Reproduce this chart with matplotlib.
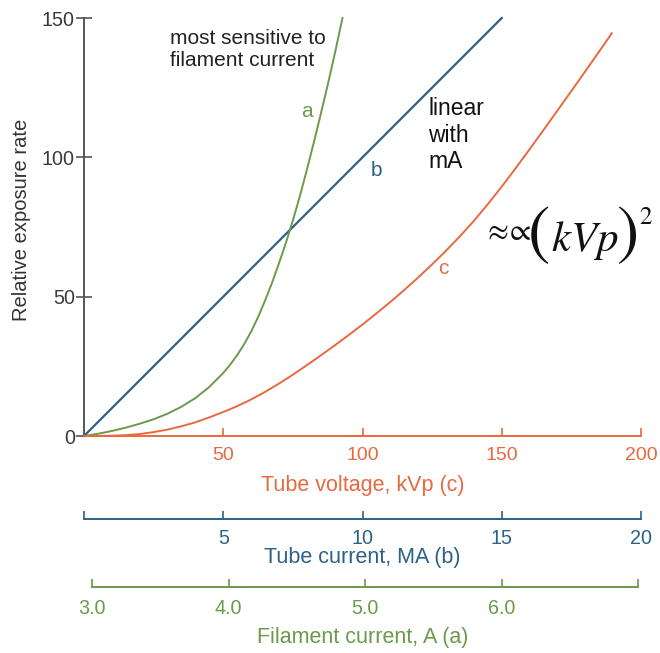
import matplotlib
matplotlib.use("Agg")
import matplotlib.pyplot as plt
import matplotlib.transforms as mtransforms
import numpy as np

plt.rcParams['font.family'] = ['Liberation Sans', 'DejaVu Sans']
plt.rcParams['mathtext.fontset'] = 'stix'

ORANGE = '#E8693F'
BLUE = '#2A6189'
GREEN = '#6B9A4B'
GRAY = '#555555'

# ---- data ----
# curve c: tube voltage (kVp) vs relative exposure rate
kvp = [0, 5, 10, 15, 20, 25, 30, 35, 40, 45, 50, 55, 60, 65, 70, 75, 80, 85,
       90, 95, 100, 105, 110, 115, 120, 125, 130, 135, 140, 145, 150, 155,
       160, 165, 170, 175, 180, 185, 189.5]
rate_c = [0, 0.02, 0.1, 0.3, 0.7, 1.4, 2.3, 3.5, 4.9, 6.7, 8.6, 10.7, 13.1,
          15.8, 18.8, 22.0, 25.4, 28.9, 32.5, 36.2, 40.0, 44.0, 48.1, 52.4,
          56.9, 61.6, 66.5, 71.7, 77.2, 83.2, 89.5, 96.1, 102.9, 109.8, 116.8,
          123.8, 130.9, 138.0, 144.5]

# curve b: tube current (mA) vs relative exposure rate
ma = [0, 15]
rate_b = [0, 150]

# curve a: filament current (A) vs relative exposure rate
fil = [2.940, 3.042, 3.144, 3.246, 3.348, 3.450, 3.552, 3.654, 3.756, 3.858,
       3.960, 4.011, 4.062, 4.113, 4.164, 4.216, 4.267, 4.318, 4.369, 4.420,
       4.471, 4.522, 4.573, 4.624, 4.675, 4.726, 4.777, 4.834]
rate_a = [0, 0.8, 1.8, 3.0, 4.4, 6.0, 8.0, 10.5, 13.6, 17.6, 22.6, 25.6, 29.0,
          32.9, 37.4, 42.7, 48.6, 55.0, 62.0, 69.4, 77.4, 86.1, 95.5, 105.3,
          115.5, 126.0, 137.0, 150.0]

kvp_ticks = [50, 100, 150, 200]
ma_ticks = [0, 5, 10, 15, 20]
ma_labels = ['', '5', '10', '15', '20']
fil_ticks = [3.0, 4.0, 5.0, 6.0, 7.0]
fil_labels = ['3.0', '4.0', '5.0', '6.0', '']
y_ticks = [0, 50, 100, 150]


def ma_to_kvp(m):
    return np.asarray(m) * 10.0


def kvp_to_ma(k):
    return np.asarray(k) / 10.0


def fil_to_kvp(i):
    return (np.asarray(i) - 2.94) * 49.0


def kvp_to_fil(k):
    return np.asarray(k) / 49.0 + 2.94


fig = plt.figure(figsize=(6.6, 6.53), dpi=100)
ax = fig.add_axes([84 / 660, (653 - 436) / 653, (641 - 84) / 660, (436 - 18) / 653])

ax.plot(kvp, rate_c, color=ORANGE, lw=1.4, clip_on=False, solid_joinstyle='round')
ax.plot(ma_to_kvp(ma), rate_b, color=BLUE, lw=1.6, clip_on=False)
ax.plot(fil_to_kvp(fil), rate_a, color=GREEN, lw=1.4, clip_on=False, solid_joinstyle='round')

ax.set_xlim(0, 200)
ax.set_ylim(0, 150)
for s in ['top', 'right']:
    ax.spines[s].set_visible(False)
ax.spines['left'].set_color(GRAY)
ax.spines['left'].set_linewidth(1.4)
ax.spines['bottom'].set_color(ORANGE)
ax.spines['bottom'].set_linewidth(1.4)

ax.set_yticks(y_ticks)
ax.set_xticks(kvp_ticks)
ax.tick_params(axis='y', direction='inout', length=11, width=1.2, color=GRAY,
               labelsize=14.2, labelcolor='#3a3a3a', pad=1)
ax.tick_params(axis='x', direction='in', length=6, width=1.2, color=ORANGE,
               labelsize=14, labelcolor=ORANGE, pad=8)

# secondary axes
loc_b = (436 - 519) / 418
loc_a = (436 - 587) / 418
sec_b = ax.secondary_xaxis(loc_b, functions=(kvp_to_ma, ma_to_kvp))
sec_a = ax.secondary_xaxis(loc_a, functions=(kvp_to_fil, fil_to_kvp))

for sec, col, ticks, labels, lo, hi, pad in [
        (sec_b, BLUE, ma_ticks, ma_labels, 0, 20, 7.5),
        (sec_a, GREEN, fil_ticks, fil_labels, 3.0, 7.0, 9)]:
    sec.set_xticks(ticks)
    sec.set_xticklabels(labels)
    sec.spines['bottom'].set_color(col)
    sec.spines['bottom'].set_linewidth(1.4)
    sec.spines['bottom'].set_bounds(lo, hi)
    sec.tick_params(axis='x', direction='in', length=6, width=1.2, color=col,
                    labelsize=14.2, labelcolor=col, pad=pad)

# axis labels
ax.text(0.5, (436 - 485) / 418, 'Tube voltage, kVp (c)', transform=ax.transAxes,
        ha='center', va='center', color=ORANGE, fontsize=15.5)
ax.text(0.5, (436 - 558) / 418, 'Tube current, MA (b)', transform=ax.transAxes,
        ha='center', va='center', color=BLUE, fontsize=15.5)
ax.text(0.5, (436 - 638) / 418, 'Filament current, A (a)', transform=ax.transAxes,
        ha='center', va='center', color=GREEN, fontsize=15.5)
ax.text((22 - 84) / 557, (436 - 219.5) / 418, 'Relative exposure rate',
        transform=ax.transAxes, rotation=90, ha='center', va='center',
        color='#333333', fontsize=14.5)

# annotations
ax.text(30.9, 138.7, 'most sensitive to\nfilament current', ha='left', va='center',
        fontsize=15, color='#222222', linespacing=1.25)
ax.text(123.6, 108, 'linear\nwith\nmA', ha='left', va='center', fontsize=16.5,
        color='#111111', linespacing=1.22)
ax.text(80, 116.4, 'a', ha='center', va='center', fontsize=15, color=GREEN)
ax.text(105.1, 95.4, 'b', ha='center', va='center', fontsize=15, color=BLUE)
ax.text(129, 60.2, 'c', ha='center', va='center', fontsize=15, color=ORANGE)

# formula  ≈∝(kVp)^2 built from parts (offsets in pixels from an anchor)
fx, fy = 144.7, 68.5
parts = [
    (r'$\approx\!\!\propto$', 22, 20.5, 13),
    (r'$($', 48, 51.5, 10),
    (r'$kVp$', 31, 98, 5),
    (r'$)$', 48, 139.5, 10),
    (r'$2$', 18, 158.5, 28.5),
]
for s, size, dx, dy in parts:
    tr = mtransforms.offset_copy(ax.transData, fig=fig, x=dx, y=dy, units='dots')
    ax.text(fx, fy, s, transform=tr, ha='center', va='center', fontsize=size,
            color='#111111')

fig.savefig('out.png', dpi=100)
